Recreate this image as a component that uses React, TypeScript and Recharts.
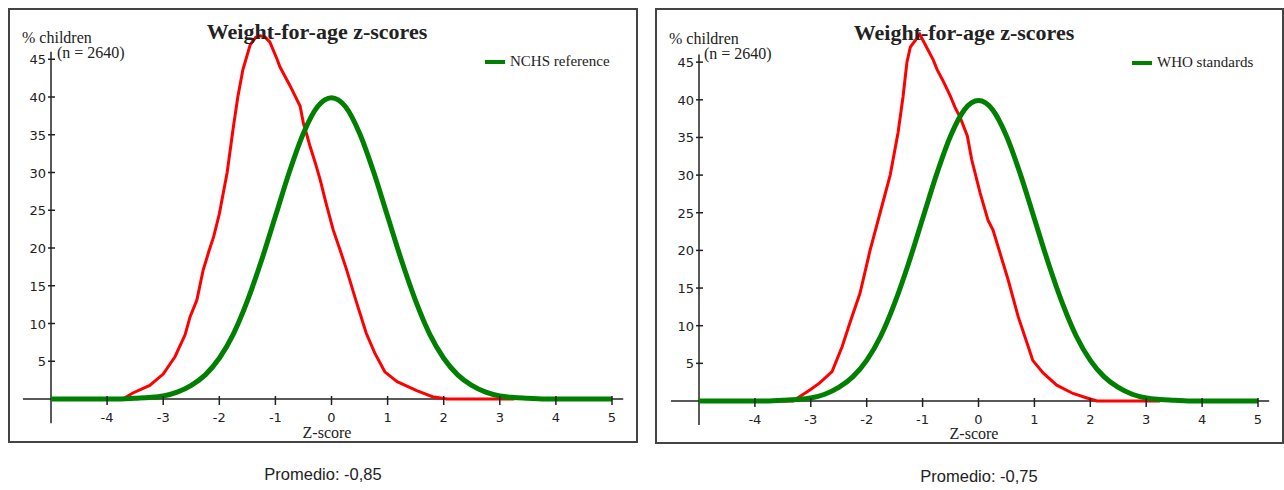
import React from 'react';
import { LineChart, Line, XAxis, YAxis, ReferenceLine, Legend } from 'recharts';

// tick labels
const xTicks = [-4, -3, -2, -1, 0, 1, 2, 3, 4, 5];
const yTicks = [5, 10, 15, 20, 25, 30, 35, 40, 45];

// reference curve (green)
const refZ = [-5, -4.75, -4.5, -4.25, -4, -3.75, -3.5, -3.25, -3, -2.75, -2.5, -2.25, -2, -1.75, -1.5, -1.25, -1, -0.75, -0.5, -0.25, 0,
  0.25, 0.5, 0.75, 1, 1.25, 1.5, 1.75, 2, 2.25, 2.5, 2.75, 3, 3.25, 3.5, 3.75, 4, 4.25, 4.5, 4.75, 5];
const refPct = [0, 0, 0, 0, 0, 0, 0.1, 0.2, 0.4, 0.9, 1.8, 3.2, 5.4, 8.6, 13, 18.3, 24.2, 30.1, 35.2, 38.7, 39.9,
  38.7, 35.2, 30.1, 24.2, 18.3, 13, 8.6, 5.4, 3.2, 1.8, 0.9, 0.4, 0.2, 0.1, 0, 0, 0, 0, 0, 0];

// sample distribution against NCHS (red, left)
const nchsZ = [-5, -3.72, -3.54, -3.24, -3.0, -2.79, -2.61, -2.52, -2.4, -2.29, -2.18, -2.1, -2.0, -1.86, -1.75, -1.67, -1.58, -1.45,
  -1.35, -1.27, -1.18, -1.1, -0.97, -0.92, -0.74, -0.56, -0.5, -0.44, -0.38, -0.29, -0.2, -0.1, 0.03, 0.15, 0.27, 0.45, 0.62, 0.77,
  0.95, 1.17, 1.52, 1.8, 2.06, 3.26];
const nchsPct = [0, 0, 0.8, 1.8, 3.3, 5.6, 8.5, 10.9, 13.1, 17, 19.7, 21.5, 24.5, 30, 36, 40, 43.6, 46.9,
  47.9, 48.1, 47.9, 47.3, 45, 44, 41.5, 38.8, 36.5, 35, 33.4, 31.3, 29, 26, 22.4, 19.8, 17.1, 12.7, 8.7, 6.1,
  3.6, 2.3, 1.1, 0.3, 0, 0];

// sample distribution against WHO (red, right)
const whoZ = [-5, -3.32, -3.01, -2.84, -2.62, -2.44, -2.3, -2.12, -1.94, -1.76, -1.58, -1.44, -1.35, -1.28, -1.22, -1.05, -0.81,
  -0.74, -0.64, -0.51, -0.42, -0.33, -0.2, -0.12, 0.03, 0.17, 0.26, 0.53, 0.71, 0.89, 0.97, 1.16, 1.4, 1.69, 1.94, 2.12, 3.25];
const whoPct = [0, 0, 1.5, 2.4, 3.9, 7.2, 10.4, 14.3, 20, 25, 30, 35.6, 40.4, 45, 47, 48.7, 45.3,
  44, 42.6, 40.6, 39, 37.7, 35.2, 32, 27.6, 24, 22.7, 16.1, 11.2, 7.2, 5.4, 3.7, 2.1, 1.0, 0.4, 0, 0];

const toRows = (zs: number[], ps: number[]) => zs.map((z, i) => ({ z, pct: ps[i] }));

const AXIS = '#222';

const XTick = (props: any) => {
  const { x, y, payload } = props;
  return (
    <g>
      <line x1={x} x2={x} y1={y - 3} y2={y + 6} stroke={AXIS} strokeWidth={1.5} />
      <text x={x} y={y + 23} textAnchor="middle" fontSize={13} fontFamily="DejaVu Sans" fill={AXIS}>
        {payload.value}
      </text>
    </g>
  );
};

const YTick = (props: any) => {
  const { x, y, payload } = props;
  return (
    <g>
      <line x1={x - 3} x2={x + 4} y1={y} y2={y} stroke={AXIS} strokeWidth={1.5} />
      <text x={x - 5} y={y + 5} textAnchor="end" fontSize={13} fontFamily="DejaVu Sans" fill={AXIS}>
        {payload.value}
      </text>
    </g>
  );
};

const LegendBox = (props: any) => {
  const item = (props.payload || []).find((p: any) => p.value !== 'sample');
  if (!item) return null;
  return (
    <div style={{ display: 'flex', alignItems: 'center', fontFamily: 'Liberation Serif', fontSize: 15, color: '#222' }}>
      <span style={{ display: 'inline-block', width: 20, height: 4, background: item.color, marginRight: 5 }} />
      {item.value}
    </div>
  );
};

type PanelProps = {
  box: { left: number; top: number; width: number; height: number };
  margin: { top: number; right: number; bottom: number; left: number };
  sample: { z: number; pct: number }[];
  refName: string;
  dy: number;
};

function Panel({ box, margin, sample, refName, dy }: PanelProps) {
  const refRows = toRows(refZ, refPct);
  return (
    <div style={{ position: 'absolute', left: box.left, top: box.top, width: box.width, height: box.height }}>
      <LineChart width={box.width} height={box.height} margin={margin}>
        <XAxis
          dataKey="z"
          type="number"
          domain={[-5, 5]}
          ticks={xTicks}
          interval={0}
          height={30}
          axisLine={false}
          tickLine={false}
          tickSize={0}
          tickMargin={0}
          tick={<XTick />}
        />
        <YAxis
          type="number"
          domain={[0, 50]}
          ticks={yTicks}
          interval={0}
          width={40}
          axisLine={false}
          tickLine={false}
          tickSize={0}
          tickMargin={0}
          tick={<YTick />}
        />
        <ReferenceLine segment={[{ x: -5.5, y: 0 }, { x: 5.2, y: 0 }]} ifOverflow="visible" stroke={AXIS} strokeWidth={1.5} />
        <ReferenceLine segment={[{ x: -5, y: -3.2 }, { x: -5, y: 46 }]} ifOverflow="visible" stroke={AXIS} strokeWidth={1.5} />
        <Line
          data={sample}
          dataKey="pct"
          name="sample"
          type="linear"
          stroke="#ff0000"
          strokeWidth={3}
          dot={false}
          legendType="none"
          isAnimationActive={false}
        />
        <Line
          data={refRows}
          dataKey="pct"
          name={refName}
          type="monotone"
          stroke="#008000"
          strokeWidth={5}
          dot={false}
          isAnimationActive={false}
        />
        <Legend content={<LegendBox />} layout="vertical" align="center" verticalAlign="middle" wrapperStyle={{ left: 476, top: 44 + dy, width: 'auto' }} />
      </LineChart>
      <svg width={box.width} height={box.height} style={{ position: 'absolute', left: 0, top: 0, pointerEvents: 'none' }}>
        <text x={308} y={30 + dy} textAnchor="middle" fontFamily="Liberation Serif" fontWeight="bold" fontSize={22} fill="#222">
          Weight-for-age z-scores
        </text>
        <text x={13} y={34 + dy} fontFamily="Liberation Serif" fontSize={16} fill="#222">% children</text>
        <text x={48} y={49 + dy} fontFamily="Liberation Serif" fontSize={16} fill="#222">(n = 2640)</text>
        <text x={318} y={429 + dy} textAnchor="middle" fontFamily="Liberation Serif" fontSize={16} fill="#222">Z-score</text>
      </svg>
    </div>
  );
}

export default function App() {
  return (
    <div style={{ position: 'absolute', left: 0, top: 0, width: 1284, height: 490, background: '#fff', overflow: 'hidden' }}>
      <div style={{ position: 'absolute', left: 8, top: 8, width: 630, height: 435, border: '2px solid #444', boxSizing: 'border-box' }} />
      <div style={{ position: 'absolute', left: 655, top: 8, width: 629, height: 436, border: '2px solid #444', boxSizing: 'border-box' }} />
      <Panel
        box={{ left: 9, top: 9, width: 628, height: 433 }}
        margin={{ top: 12.5, right: 25, bottom: 13, left: 2 }}
        sample={toRows(nchsZ, nchsPct)}
        refName="NCHS reference"
        dy={0}
      />
      <Panel
        box={{ left: 656, top: 9, width: 627, height: 434 }}
        margin={{ top: 15.5, right: 25, bottom: 12, left: 3 }}
        sample={toRows(whoZ, whoPct)}
        refName="WHO standards"
        dy={1}
      />
      <div style={{ position: 'absolute', left: 223, width: 200, top: 465, textAlign: 'center', fontFamily: 'Liberation Sans', fontSize: 16.5, color: '#222' }}>
        Promedio: -0,85
      </div>
      <div style={{ position: 'absolute', left: 879, width: 200, top: 467, textAlign: 'center', fontFamily: 'Liberation Sans', fontSize: 16.5, color: '#222' }}>
        Promedio: -0,75
      </div>
    </div>
  );
}
